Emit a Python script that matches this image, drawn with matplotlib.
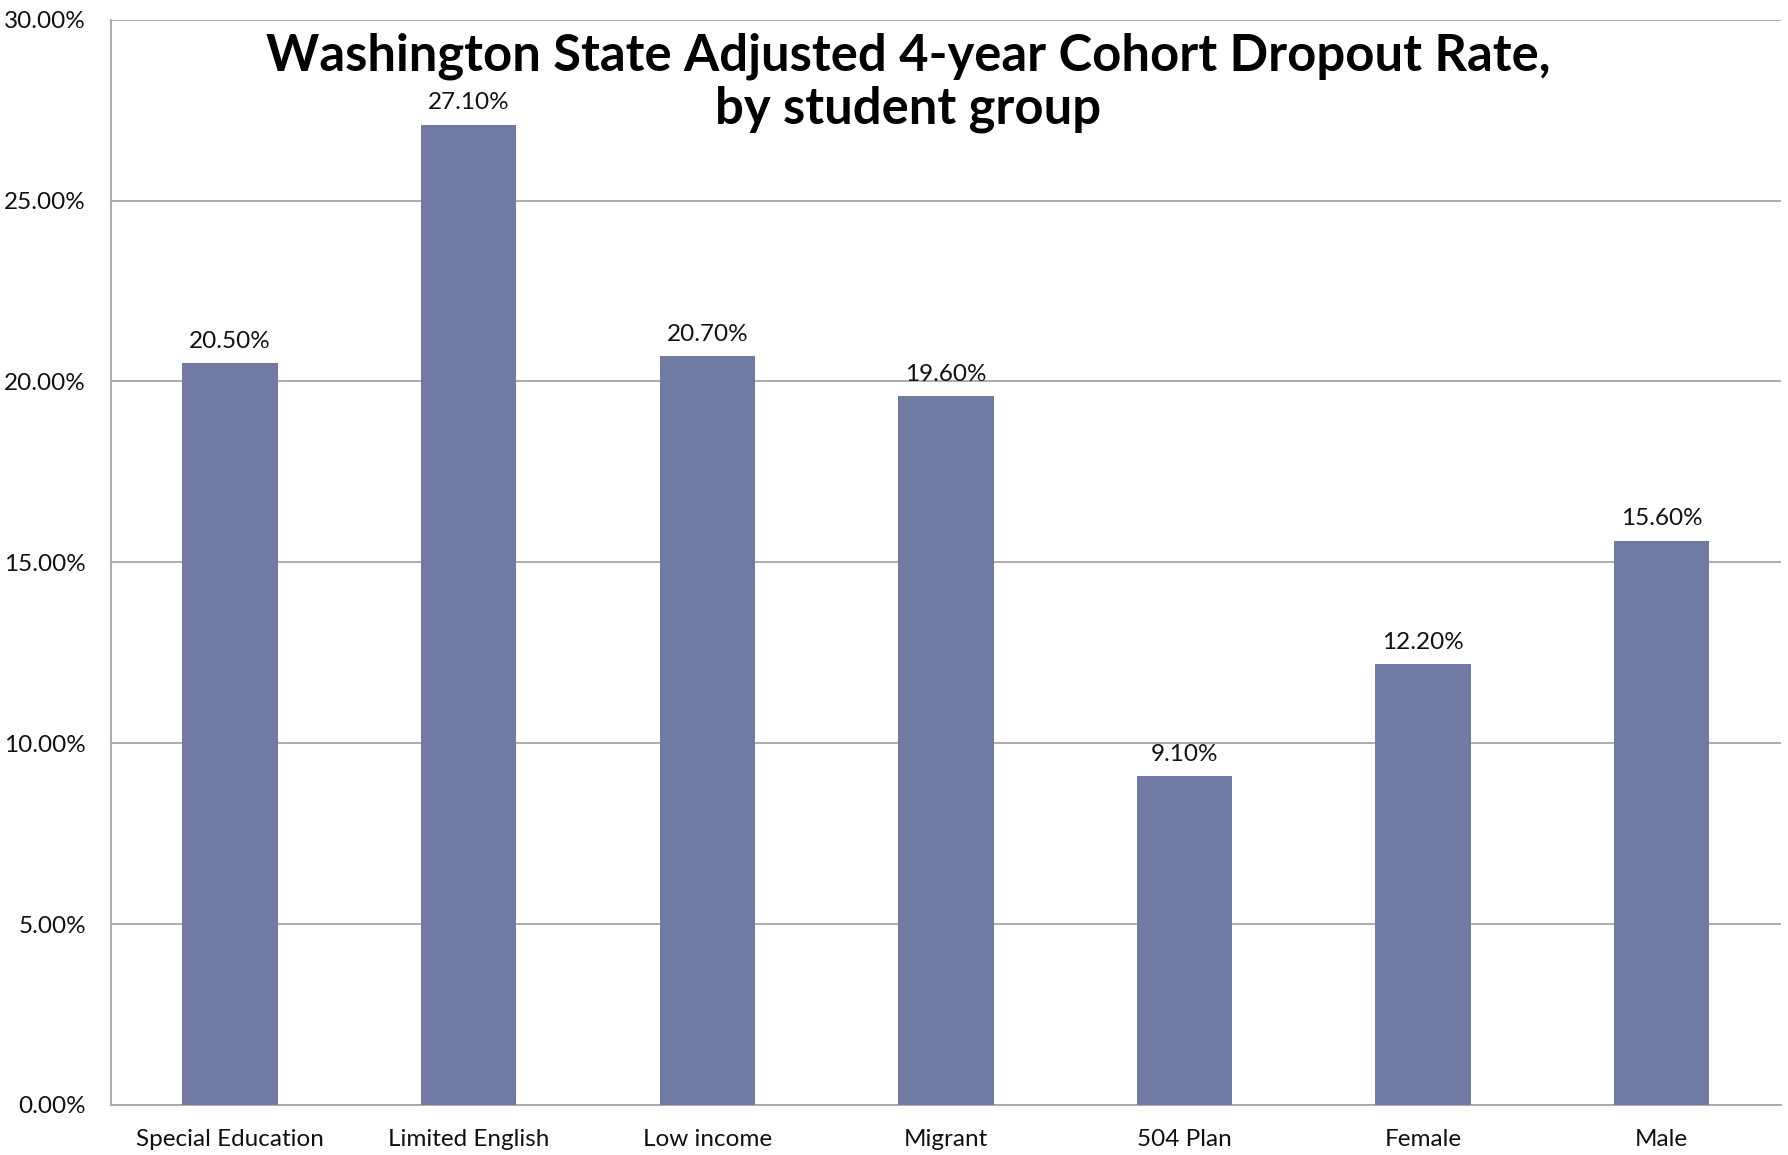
import matplotlib
matplotlib.use("Agg")
import matplotlib.pyplot as plt
from matplotlib.ticker import FuncFormatter, MultipleLocator

categories = ["Special Education", "Limited English", "Low income", "Migrant",
              "504 Plan", "Female", "Male"]
dropout_rate = [20.5, 27.1, 20.7, 19.6, 9.1, 12.2, 15.6]
title_lines = ["Washington State Adjusted 4-year Cohort Dropout Rate,",
               "by student group"]

plt.rcParams["font.family"] = ["Lato", "DejaVu Sans"]

fig = plt.figure(figsize=(17.88, 11.55), dpi=100)
ax = fig.add_axes([0.062, 0.0433, 0.934, 0.9397])

bar_color = "#717aa2"
grid_color = "#a6a6a6"

x = range(len(categories))
bars = ax.bar(x, dropout_rate, width=0.4, color=bar_color, zorder=3)

for rect, v in zip(bars, dropout_rate):
    ax.annotate(f"{v:.2f}%", (rect.get_x() + rect.get_width() / 2, v),
                xytext=(0, 8), textcoords="offset points",
                ha="center", va="bottom", fontsize=17.5, color="#111111")

ax.set_xlim(-0.5, len(categories) - 0.5)
ax.set_ylim(0, 30)
ax.yaxis.set_major_locator(MultipleLocator(5))
ax.yaxis.set_major_formatter(FuncFormatter(lambda v, _: f"{v:.2f}%"))
ax.set_xticks(list(x))
ax.set_xticklabels(categories)

ax.grid(axis="y", color=grid_color, linewidth=1.3, zorder=0)
ax.set_axisbelow(True)
for side in ("top", "right"):
    ax.spines[side].set_visible(False)
for side in ("left", "bottom"):
    ax.spines[side].set_color(grid_color)
    ax.spines[side].set_linewidth(1.3)

ax.tick_params(axis="both", length=0, labelsize=17.5, colors="#111111")
ax.tick_params(axis="y", pad=18)
ax.tick_params(axis="x", pad=17)

# two-line bold title, each line placed on its own baseline
for line, y in zip(title_lines, (0.9388, 0.8935)):
    fig.text(0.508, y, line, ha="center", va="baseline", fontsize=36.5,
             fontweight="bold", color="#000000")

fig.savefig("out.png", dpi=100)
